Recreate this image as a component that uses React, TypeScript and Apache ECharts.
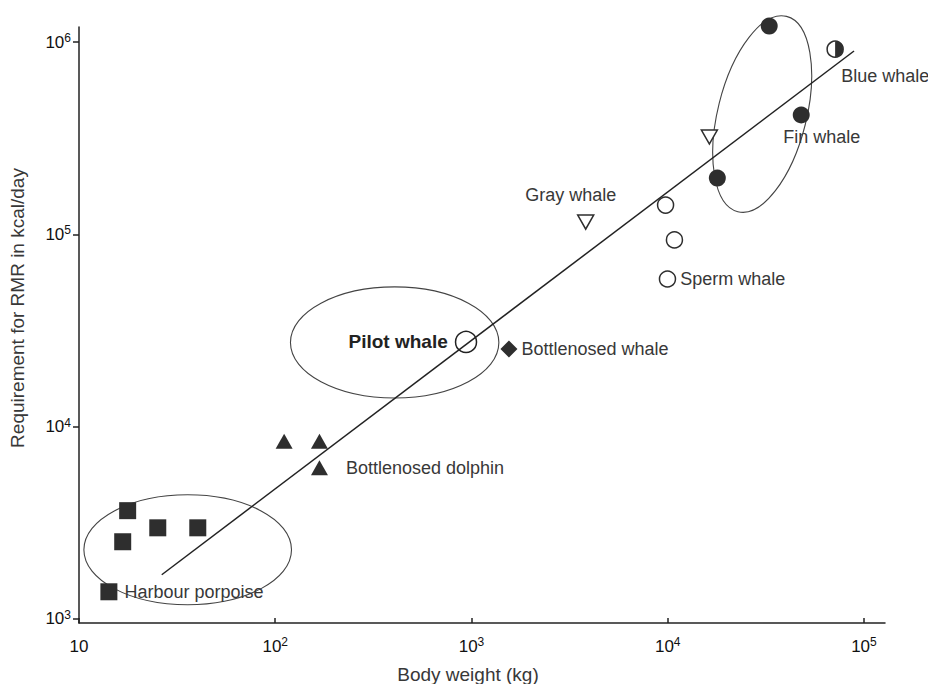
import React, { useEffect, useRef } from "react";
import * as echarts from "echarts";

// Axis ticks (powers of ten)
const xTicks = [10, 100, 1000, 10000, 100000];
const yTicks = [1000, 10000, 100000, 1000000];

// Body weight (kg) and RMR requirement (kcal/day)
const porpoiseWeight = [17.7, 16.7, 25.2, 40.3, 14.2];
const porpoiseRMR = [3650, 2515, 2972, 2972, 1381];
const dolphinWeight = [111, 168, 168];
const dolphinRMR = [8380, 8380, 6100];
const pilotWeight = [938];
const pilotRMR = [27550];
const bnWhaleWeight = [1552];
const bnWhaleRMR = [25350];
const grayWeight = [3820, 16300];
const grayRMR = [115900, 321000];
const spermWeight = [9750, 10820, 9970];
const spermRMR = [142000, 93600, 58600];
const finWeight = [32900, 47900, 17900];
const finRMR = [1213000, 418000, 196300];
const blueWeight = [71300];
const blueRMR = [920000];

// Fitted regression line end points
const regressionWeight = [26.4, 89000];
const regressionRMR = [1694, 900000];

// Grouping ellipses: centre, semi-axes (in decades), tilt (degrees)
const ellipseCenterWeight = [35.8, 406, 30300];
const ellipseCenterRMR = [2285, 27400, 423000];
const ellipseSemiX = [0.529, 0.531, 0.226];
const ellipseSemiY = [0.286, 0.289, 0.524];
const ellipseTilt = [0, 0, 14];

const DARK = "#2e2e2e";
const TEXT = "#383838";
const FONT = "Liberation Sans";

const sup = (v: number) => {
  const e = Math.round(Math.log10(v));
  return e === 1 ? "{a|10}" : `{a|10}{b|${e}}`;
};
const tickRich = {
  a: { fontSize: 17, fontFamily: FONT, color: "#111", lineHeight: 20 },
  b: { fontSize: 12, fontFamily: FONT, color: "#111", verticalAlign: "top", lineHeight: 20 },
};

const labelStyle = { color: TEXT, fontSize: 18, fontFamily: FONT };

export default function App() {
  const ref = useRef<HTMLDivElement>(null);
  useEffect(() => {
    if (!ref.current) return;
    const chart = echarts.init(ref.current, null, { renderer: "svg" });
    const pair = (xs: number[], ys: number[]) => xs.map((x, i) => [x, ys[i]]);

    const option: any = {
      animation: false,
      backgroundColor: "#fff",
      grid: { left: 79, right: 43, top: 27, bottom: 61, containLabel: false, outerBoundsMode: "none" },
      xAxis: {
        type: "log",
        logBase: 10,
        min: 10,
        max: 128000,
        axisLine: { lineStyle: { color: "#222", width: 1.5 } },
        axisTick: { inside: true, length: 5, customValues: xTicks, lineStyle: { color: "#222", width: 1.5 } },
        axisLabel: { customValues: xTicks, formatter: sup, rich: tickRich, fontSize: 17, fontFamily: FONT, color: "#111", margin: 13 },
        splitLine: { show: false },
        minorTick: { show: false },
        name: "Body weight (kg)",
        nameLocation: "middle",
        nameGap: 42,
        nameTextStyle: { color: TEXT, fontSize: 19, fontFamily: FONT, padding: [0, 28, 0, 0] },
      },
      yAxis: {
        type: "log",
        logBase: 10,
        min: 950,
        max: 1200000,
        axisLine: { lineStyle: { color: "#222", width: 1.5 } },
        axisTick: { inside: false, length: 6, customValues: yTicks, lineStyle: { color: "#222", width: 1.5 } },
        axisLabel: { customValues: yTicks, formatter: sup, rich: tickRich, fontSize: 17, fontFamily: FONT, color: "#111", margin: 8 },
        splitLine: { show: false },
        name: "Requirement for RMR in kcal/day",
        nameLocation: "middle",
        nameGap: 52,
        nameTextStyle: { color: TEXT, fontSize: 19, fontFamily: FONT, padding: [0, 0, 0, 34] },
      },
      series: [
        {
          type: "custom",
          silent: true,
          clip: false,
          z: 1,
          data: ellipseCenterWeight.map((w, i) => [w, ellipseCenterRMR[i], ellipseSemiX[i], ellipseSemiY[i], ellipseTilt[i]]),
          renderItem: (params: any, api: any) => {
            const c = api.coord([api.value(0), api.value(1)]);
            const p0 = api.coord([10, 1000]);
            const p1 = api.coord([100, 10000]);
            const dx = Math.abs(p1[0] - p0[0]);
            const dy = Math.abs(p1[1] - p0[1]);
            return {
              type: "ellipse",
              x: c[0],
              y: c[1],
              rotation: (-api.value(4) * Math.PI) / 180,
              shape: { cx: 0, cy: 0, rx: api.value(2) * dx, ry: api.value(3) * dy },
              style: { fill: "none", stroke: "#444", lineWidth: 1.1 },
            };
          },
        },
        {
          type: "line",
          data: pair(regressionWeight, regressionRMR),
          symbol: "none",
          silent: true,
          z: 2,
          lineStyle: { color: "#222", width: 1.5 },
        },
        {
          type: "scatter",
          name: "Harbour porpoise",
          symbol: "rect",
          symbolSize: 17,
          z: 3,
          itemStyle: { color: DARK, opacity: 1 },
          data: pair(porpoiseWeight, porpoiseRMR).map((v, i) =>
            i === 4
              ? { value: v, label: { show: true, position: "right", distance: 7, formatter: "Harbour porpoise", ...labelStyle } }
              : { value: v }
          ),
        },
        {
          type: "scatter",
          name: "Bottlenosed dolphin",
          symbol: "triangle",
          symbolSize: [17, 15],
          z: 3,
          itemStyle: { color: DARK, opacity: 1 },
          data: pair(dolphinWeight, dolphinRMR).map((v, i) =>
            i === 2
              ? { value: v, label: { show: true, position: "right", distance: 18, formatter: "Bottlenosed dolphin", ...labelStyle } }
              : { value: v }
          ),
        },
        {
          type: "scatter",
          name: "Pilot whale",
          symbol: "circle",
          symbolSize: 21,
          z: 3,
          itemStyle: { color: "rgba(255,255,255,0)", borderColor: "#222", borderWidth: 1.5, opacity: 1 },
          data: pair(pilotWeight, pilotRMR).map((v) => ({
            value: v,
            label: { show: true, position: "left", distance: 7, formatter: "Pilot whale", color: "#222", fontSize: 19, fontWeight: "bold", fontFamily: FONT },
          })),
        },
        {
          type: "scatter",
          name: "Bottlenosed whale",
          symbol: "diamond",
          symbolSize: 17,
          z: 3,
          itemStyle: { color: DARK, opacity: 1 },
          data: pair(bnWhaleWeight, bnWhaleRMR).map((v) => ({
            value: v,
            label: { show: true, position: "right", distance: 4, formatter: "Bottlenosed whale", ...labelStyle },
          })),
        },
        {
          type: "scatter",
          name: "Gray whale",
          symbol: "triangle",
          symbolRotate: 180,
          symbolSize: [16, 14],
          z: 3,
          itemStyle: { color: "#fff", borderColor: DARK, borderWidth: 1.5, opacity: 1 },
          data: pair(grayWeight, grayRMR).map((v, i) =>
            i === 0
              ? { value: v, label: { show: true, position: "inside", offset: [-15, -27], align: "center", verticalAlign: "middle", formatter: "Gray whale", ...labelStyle } }
              : { value: v }
          ),
        },
        {
          type: "scatter",
          name: "Sperm whale",
          symbol: "circle",
          symbolSize: 16,
          z: 3,
          itemStyle: { color: "#fff", borderColor: DARK, borderWidth: 1.5, opacity: 1 },
          data: pair(spermWeight, spermRMR).map((v, i) =>
            i === 2
              ? { value: v, label: { show: true, position: "right", distance: 4, formatter: "Sperm whale", ...labelStyle } }
              : { value: v }
          ),
        },
        {
          type: "scatter",
          name: "Fin whale",
          symbol: "circle",
          symbolSize: 17,
          z: 3,
          clip: false,
          itemStyle: { color: DARK, opacity: 1 },
          data: pair(finWeight, finRMR).map((v, i) =>
            i === 1
              ? { value: v, label: { show: true, position: "inside", offset: [-18, 22], align: "left", verticalAlign: "middle", formatter: "Fin whale", ...labelStyle } }
              : { value: v }
          ),
        },
        {
          type: "custom",
          name: "Blue whale",
          clip: false,
          z: 3,
          data: pair(blueWeight, blueRMR),
          renderItem: (params: any, api: any) => {
            const c = api.coord([api.value(0), api.value(1)]);
            const r = 8;
            return {
              type: "group",
              children: [
                { type: "circle", shape: { cx: c[0], cy: c[1], r }, style: { fill: "#fff", stroke: DARK, lineWidth: 1.5 } },
                {
                  type: "sector",
                  shape: { cx: c[0], cy: c[1], r, r0: 0, startAngle: -Math.PI / 2, endAngle: Math.PI / 2, clockwise: true },
                  style: { fill: DARK },
                },
                {
                  type: "text",
                  x: c[0] + 6,
                  y: c[1] + 27,
                  style: {
                    text: "Blue whale",
                    fill: TEXT,
                    stroke: "none",
                    lineWidth: 0,
                    fontSize: 18,
                    fontWeight: "normal",
                    fontFamily: FONT,
                    align: "left",
                    verticalAlign: "middle",
                  },
                },
              ],
            };
          },
        },
      ],
    };
    chart.setOption(option);
    return () => chart.dispose();
  }, []);
  return <div ref={ref} style={{ position: "fixed", left: 0, top: 0, width: 928, height: 684 }} />;
}
